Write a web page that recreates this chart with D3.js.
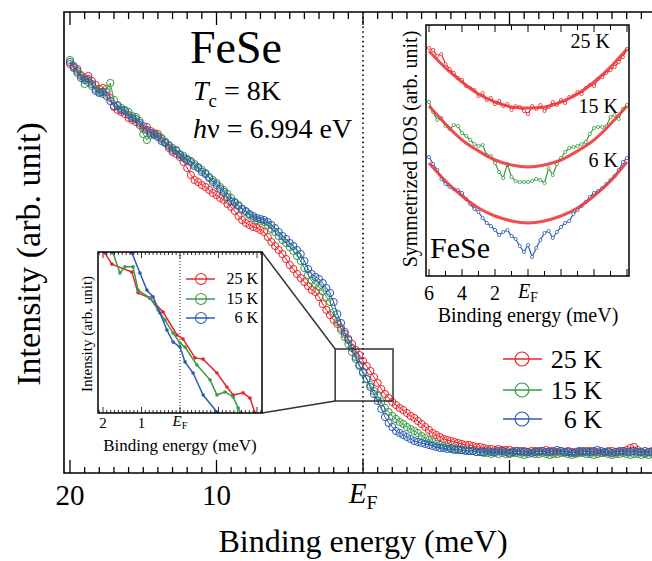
<!DOCTYPE html>
<html><head><meta charset="utf-8">
<script src="https://cdn.jsdelivr.net/npm/d3@7/dist/d3.min.js"></script>
<style>
body{margin:0;background:#fff;}
svg{display:block;}
text{font-family:"Liberation Serif";}
</style></head><body>
<svg id="c" width="652" height="561" font-family="Liberation Serif"></svg>
<script>
// ---------- data ----------
const temps = ["25 K", "15 K", "6 K"];
const colors = ["#e8262b", "#3a9a45", "#2b5bb5"];
const fitColor = "#ee3a3c";

// main EDCs: binding energy grid 20 -> -19.75 meV, step 0.25 (rows of 1 meV)
const energyStart = 20, energyStep = 0.25;
const edc25 = [
 408,404,403,397, 394,396,391,387, 383,384,380,374, 365,362,360,358,
 354,352,350,347, 343,345,341,339, 338,333,330,324, 320,318,315,310,
 304,297,292,290, 287,285,282,279, 277,274,272,268, 265,261,256,252,
 249,247,245,244, 242,240,235,230, 226,222,218,213, 207,203,198,194,
 190,186,182,180, 175,168,162,157, 152,148,144,138, 133,128,122,117,
 111,106,101,95,  89,83,78,74,     70,67,64,62,     59,56,54,51,
 48,45,42,39,     37,35,33,32,     31,30,29,28,     27,27,26,25,
 25,24,23,23,     22,23,22,22,     22,21,21,20,     21,20,21,21,
 20,21,22,21,     20,20,21,20,     21,20,19,20,     20,21,21,20,
 20,19,20,21,     21,20,20,21,     22,24,25,22,     20,19,20,21];
const edc15 = [
 412,405,399,396, 388,390,386,383, 380,378,383,389, 372,367,364,362,
 360,356,355,351, 338,332,337,338, 336,334,330,327, 324,322,318,316,
 313,311,308,305, 302,299,295,292, 289,285,282,278, 274,270,267,263,
 260,257,254,252, 251,250,247,243, 240,236,232,229, 225,221,216,211,
 204,197,191,188, 185,181,175,170, 160,150,142,135, 128,120,113,106,
 99,93,87,81,     76,70,64,60,     56,53,50,48,     45,43,41,39,
 36,34,32,30,     28,27,26,25,     24,23,23,22,     22,21,21,20,
 20,19,19,18,     19,18,19,18,     18,19,19,18,     17,18,19,18,
 18,19,18,17,     18,18,19,19,     18,17,18,19,     19,18,18,17,
 18,19,19,18,     17,18,18,19,     18,17,18,18,     17,18,17,18];
const edc6 = [
 410,406,401,394, 392,393,388,381, 379,380,376,371, 366,366,362,361,
 357,354,353,349, 346,342,339,337, 335,331,329,326, 322,321,317,314,
 312,310,306,304, 300,298,294,290, 287,283,280,275, 271,269,266,263,
 261,258,256,254, 253,252,250,247, 244,240,236,233, 229,226,222,218,
 211,203,198,195, 193,189,184,179, 170,158,149,140, 132,124,115,107,
 100,93,85,78,    71,63,55,49,     45,41,39,37,     35,33,31,30,
 29,28,27,26,     25,24,24,23,     23,22,22,22,     21,21,21,20,
 20,20,21,20,     20,21,21,20,     19,20,21,21,     20,20,19,20,
 21,21,20,20,     21,22,21,20,     20,19,20,21,     21,20,20,21,
 22,21,20,20,     19,20,21,21,     20,20,21,20,     20,21,20,20];

// zoom inset near EF: [binding energy (meV), intensity]
const zoom25 = [[1.95,122.7],[1.77,119.1],[1.25,116.5],[1.09,109.8],[0.78,108.1],[0.44,103.6],[0.08,96.2],[-0.08,94.9],[-0.39,88.8],[-0.60,88.4],[-0.96,83.9],[-1.22,79.4],[-1.38,76.8],[-1.64,77.5],[-1.82,75.8],[-1.95,71.0]];
const zoom15 = [[1.74,122.7],[1.56,116.2],[1.43,118.2],[1.22,118.2],[1.09,110.7],[0.78,108.1],[0.57,104.3],[0.39,101.0],[0.18,96.8],[0,93.6],[-0.13,92.3],[-0.44,86.5],[-0.78,81.7],[-0.96,76.8],[-1.17,77.8],[-1.38,76.2],[-1.51,72.6],[-1.58,71.0]];
const zoom6 = [[1.25,122.7],[1.04,116.2],[0.86,110.7],[0.70,108.5],[0.52,103.3],[0.34,97.8],[0.18,93.9],[0,92.3],[-0.13,87.5],[-0.34,83.9],[-0.60,76.8],[-0.96,71.3]];

// symmetrized DOS: energy 6 -> -6 meV step 0.25
const dosStart = 6, dosStep = 0.25;
const dos25 = [228,226,220,222,212,207,203,198,196,190,188,186,180,183,176,178,172,175,170,172,166,170,169,165,162,
 170,167,171,165,169,174,171,176,173,179,180,184,182,188,191,190,197,199,203,206,209,214,219,227];
const dos15 = [174,164,156,158,150,147,151,150,143,140,136,132,130,131,121,120,113,104,98,112,99,95,94,94,94,
 95,97,96,93,108,101,112,118,124,128,129,130,132,134,142,148,149,149,150,159,161,157,167,171];
const dos6 = [119,112,106,97,92,89,87,86,83,77,72,67,64,58,53,50,46,41,44,46,40,37,30,24,31,
 19,28,36,43,45,38,44,49,53,55,62,66,70,74,79,83,85,88,92,96,100,106,114,118];
// fits: energy 6 -> -6 step 1
const fitStep = 1;
const fit25 = [225,208,194,182,174,169,168,169,174,182,194,209,227];
const fit15 = [170,152,136,125,116,111,109,111,116,125,136,152,170];
const fit6  = [113,95,80,68,60,55,53,55,60,68,80,95,114];

// ---------- drawing ----------
const svg = d3.select("#c");

// main plot
const frame = {left:64, top:12, bottom:473, right:720};
const x = d3.scaleLinear().domain([20, 0]).range([70, 363]);
const y = d3.scaleLinear().domain([0, 460]).range([472, 12]);

svg.append("clipPath").attr("id","mainclip").append("rect")
  .attr("x", frame.left).attr("y", frame.top)
  .attr("width", frame.right-frame.left).attr("height", frame.bottom-frame.top);

// ticks
const mainTicks = d3.range(-21, 21);
const tg = svg.append("g").attr("stroke","#000").attr("stroke-width",1.3);
mainTicks.forEach(e => {
  const px = x(e);
  if (px < frame.left || px > 660) return;
  const major = e % 10 === 0;
  tg.append("line").attr("x1",px).attr("x2",px).attr("y1",frame.bottom).attr("y2",frame.bottom-(major?13:6));
  tg.append("line").attr("x1",px).attr("x2",px).attr("y1",frame.top).attr("y2",frame.top+(major?13:7));
});
// EF dotted line
svg.append("line").attr("x1",x(0)).attr("x2",x(0)).attr("y1",frame.top).attr("y2",frame.bottom)
  .attr("stroke","#000").attr("stroke-width",1.6).attr("stroke-dasharray","1.6,3.2");

// data
const series = [edc25, edc15, edc6];
const mg = svg.append("g").attr("clip-path","url(#mainclip)");
const mline = d3.line().x(d=>x(d[0])).y(d=>y(d[1]));
series.forEach((vals,k) => {
  const pts = vals.map((v,i) => [energyStart - i*energyStep, v]);
  mg.append("path").attr("d", mline(pts)).attr("fill","none").attr("stroke",colors[k]).attr("stroke-width",1);
  mg.selectAll(null).data(pts).enter().append("circle")
    .attr("cx",d=>x(d[0])).attr("cy",d=>y(d[1])).attr("r",3.6)
    .attr("fill","none").attr("stroke",colors[k]).attr("stroke-width",1);
});

// frame
svg.append("path").attr("d",`M${frame.right},${frame.top}H${frame.left}V${frame.bottom}H${frame.right}`)
  .attr("fill","none").attr("stroke","#000").attr("stroke-width",1.6);

// tick labels
[20,10].forEach(e => svg.append("text").attr("x",x(e)).attr("y",505).attr("text-anchor","middle")
  .attr("font-size",29).text(e));
function efLabel(sel, px, py, size) {
  const t = sel.append("text").attr("x",px).attr("y",py).attr("text-anchor","middle").attr("font-size",size);
  t.append("tspan").attr("font-style","italic").text("E");
  t.append("tspan").attr("font-size",size*0.68).attr("dy",size*0.22).text("F");
  return t;
}
efLabel(svg, x(0), 503, 29);
svg.append("text").attr("x",363).attr("y",552).attr("text-anchor","middle").attr("font-size",32).text("Binding energy (meV)");
svg.append("text").attr("transform","translate(40,254) rotate(-90)").attr("text-anchor","middle")
  .attr("font-size",34).text("Intensity (arb. unit)");

// title block
svg.append("text").attr("x",190).attr("y",63).attr("font-size",46).text("FeSe");
const tc = svg.append("text").attr("x",193).attr("y",100).attr("font-size",28);
tc.append("tspan").attr("font-style","italic").text("T");
tc.append("tspan").attr("font-size",19).attr("dy",7).text("c");
tc.append("tspan").attr("dy",-7).text(" = 8K");
const hv = svg.append("text").attr("x",193).attr("y",138).attr("font-size",28);
hv.append("tspan").attr("font-style","italic").text("h");
hv.append("tspan").text("\u03BD = 6.994 eV");

// main legend
const legY = [359, 390, 419];
temps.forEach((t,k) => {
  svg.append("line").attr("x1",503).attr("x2",542).attr("y1",legY[k]).attr("y2",legY[k]).attr("stroke",colors[k]).attr("stroke-width",1.6);
  svg.append("circle").attr("cx",522).attr("cy",legY[k]).attr("r",7).attr("fill","none").attr("stroke",colors[k]).attr("stroke-width",1.2);
  svg.append("text").attr("x",602).attr("y",legY[k]+9).attr("text-anchor","end").attr("font-size",26).text(t);
});

// ---------- zoom inset ----------
const zi = {left:98, right:262, top:252, bottom:413};
const xi = d3.scaleLinear().domain([2.13, -2.13]).range([zi.left, zi.right]);
const yi = d3.scaleLinear().domain([71, 123]).range([zi.bottom, zi.top]);
const boxE = [1.9, -2.05];
svg.append("rect").attr("x",x(boxE[0])).attr("y",y(123)).attr("width",x(boxE[1])-x(boxE[0])).attr("height",y(71)-y(123))
  .attr("fill","none").attr("stroke","#333").attr("stroke-width",1.5);
svg.append("line").attr("x1",zi.right).attr("y1",zi.top).attr("x2",x(boxE[0])).attr("y2",y(123)).attr("stroke","#333").attr("stroke-width",1.5);
svg.append("line").attr("x1",zi.right).attr("y1",zi.bottom).attr("x2",x(boxE[0])).attr("y2",y(71)).attr("stroke","#333").attr("stroke-width",1.5);

svg.append("rect").attr("x",zi.left).attr("y",zi.top).attr("width",zi.right-zi.left).attr("height",zi.bottom-zi.top).attr("fill","#fff");
svg.append("clipPath").attr("id","ziclip").append("rect").attr("x",zi.left).attr("y",zi.top).attr("width",zi.right-zi.left).attr("height",zi.bottom-zi.top);
svg.append("line").attr("x1",xi(0)).attr("x2",xi(0)).attr("y1",zi.top).attr("y2",zi.bottom)
  .attr("stroke","#000").attr("stroke-width",0.9).attr("stroke-dasharray","1,2");
const zg = svg.append("g").attr("clip-path","url(#ziclip)");
const iline = d3.line().x(d=>xi(d[0])).y(d=>yi(d[1]));
[zoom25, zoom15, zoom6].forEach((pts,k) => {
  zg.append("path").attr("d",iline(pts)).attr("fill","none").attr("stroke",colors[k]).attr("stroke-width",1.5);
  zg.selectAll(null).data(pts).enter().append("circle").attr("cx",d=>xi(d[0])).attr("cy",d=>yi(d[1])).attr("r",1.8).attr("fill",colors[k]);
});
const itg = svg.append("g").attr("stroke","#000").attr("stroke-width",0.8);
d3.range(-21, 22).forEach(i => {
  const e = i/10, px = xi(e);
  if (px < zi.left || px > zi.right) return;
  const major = i % 10 === 0;
  itg.append("line").attr("x1",px).attr("x2",px).attr("y1",zi.bottom).attr("y2",zi.bottom-(major?6:3));
  itg.append("line").attr("x1",px).attr("x2",px).attr("y1",zi.top).attr("y2",zi.top+(major?6:3));
});
svg.append("rect").attr("x",zi.left).attr("y",zi.top).attr("width",zi.right-zi.left).attr("height",zi.bottom-zi.top)
  .attr("fill","none").attr("stroke","#000").attr("stroke-width",1.5);
[2,1].forEach(e => svg.append("text").attr("x",xi(e)).attr("y",428).attr("text-anchor","middle").attr("font-size",15).text(e));
efLabel(svg, xi(0), 426, 15);
svg.append("text").attr("x",180).attr("y",451).attr("text-anchor","middle").attr("font-size",17).text("Binding energy (meV)");
svg.append("text").attr("transform","translate(92,334) rotate(-90)").attr("text-anchor","middle").attr("font-size",15).text("Intensity (arb. unit)");
const ilegY = [279, 299, 318];
temps.forEach((t,k) => {
  svg.append("line").attr("x1",186).attr("x2",215).attr("y1",ilegY[k]).attr("y2",ilegY[k]).attr("stroke",colors[k]).attr("stroke-width",1.5);
  svg.append("circle").attr("cx",201).attr("cy",ilegY[k]).attr("r",5.5).attr("fill","none").attr("stroke",colors[k]).attr("stroke-width",1.1);
  svg.append("text").attr("x",258).attr("y",ilegY[k]+5).attr("text-anchor","end").attr("font-size",16).text(t);
});

// ---------- DOS inset ----------
const di = {left:426, right:629, top:25, bottom:276};
const xd = d3.scaleLinear().domain([6, -6]).range([429, 627]);
const yd = d3.scaleLinear().domain([0, 251]).range([di.bottom, di.top]);
svg.append("rect").attr("x",di.left).attr("y",di.top).attr("width",di.right-di.left).attr("height",di.bottom-di.top).attr("fill","#fff");
svg.append("clipPath").attr("id","diclip").append("rect").attr("x",di.left).attr("y",di.top).attr("width",di.right-di.left).attr("height",di.bottom-di.top);
const dg = svg.append("g").attr("clip-path","url(#diclip)");
const dline = d3.line().x(d=>xd(d[0])).y(d=>yd(d[1]));
[dos25, dos15, dos6].forEach((vals,k) => {
  const pts = vals.map((v,i) => [dosStart - i*dosStep, v]);
  dg.append("path").attr("d",dline(pts)).attr("fill","none").attr("stroke",colors[k]).attr("stroke-width",1.2);
  dg.selectAll(null).data(pts).enter().append("circle").attr("cx",d=>xd(d[0])).attr("cy",d=>yd(d[1])).attr("r",1.6)
    .attr("fill","#fff").attr("stroke",colors[k]).attr("stroke-width",0.8);
});
const fline = d3.line().x(d=>xd(d[0])).y(d=>yd(d[1])).curve(d3.curveNatural);
[fit25, fit15, fit6].forEach(vals => {
  const pts = vals.map((v,i) => [dosStart - i*fitStep, v]);
  dg.append("path").attr("d",fline(pts)).attr("fill","none").attr("stroke",fitColor).attr("stroke-width",3).attr("stroke-opacity",0.9);
});
const dtg = svg.append("g").attr("stroke","#000").attr("stroke-width",1);
d3.range(-6, 7).forEach(e => {
  const px = xd(e), major = e % 2 === 0;
  dtg.append("line").attr("x1",px).attr("x2",px).attr("y1",di.bottom).attr("y2",di.bottom-(major?7:5));
  dtg.append("line").attr("x1",px).attr("x2",px).attr("y1",di.top).attr("y2",di.top+(major?7:5));
});
svg.append("rect").attr("x",di.left).attr("y",di.top).attr("width",di.right-di.left).attr("height",di.bottom-di.top)
  .attr("fill","none").attr("stroke","#000").attr("stroke-width",1.5);
[6,4,2].forEach(e => svg.append("text").attr("x",xd(e)).attr("y",300).attr("text-anchor","middle").attr("font-size",20).text(e));
efLabel(svg, xd(0), 298, 20);
svg.append("text").attr("x",528).attr("y",322).attr("text-anchor","middle").attr("font-size",20).text("Binding energy (meV)");
svg.append("text").attr("transform","translate(417,149) rotate(-90)").attr("text-anchor","middle").attr("font-size",20).text("Symmetrized DOS (arb. unit)");
svg.append("text").attr("x",430).attr("y",258).attr("font-size",30).text("FeSe");
svg.append("text").attr("x",610).attr("y",48).attr("text-anchor","end").attr("font-size",20).text(temps[0]);
svg.append("text").attr("x",618).attr("y",113).attr("text-anchor","end").attr("font-size",20).text(temps[1]);
svg.append("text").attr("x",618).attr("y",167).attr("text-anchor","end").attr("font-size",20).text(temps[2]);
</script>
</body></html>
